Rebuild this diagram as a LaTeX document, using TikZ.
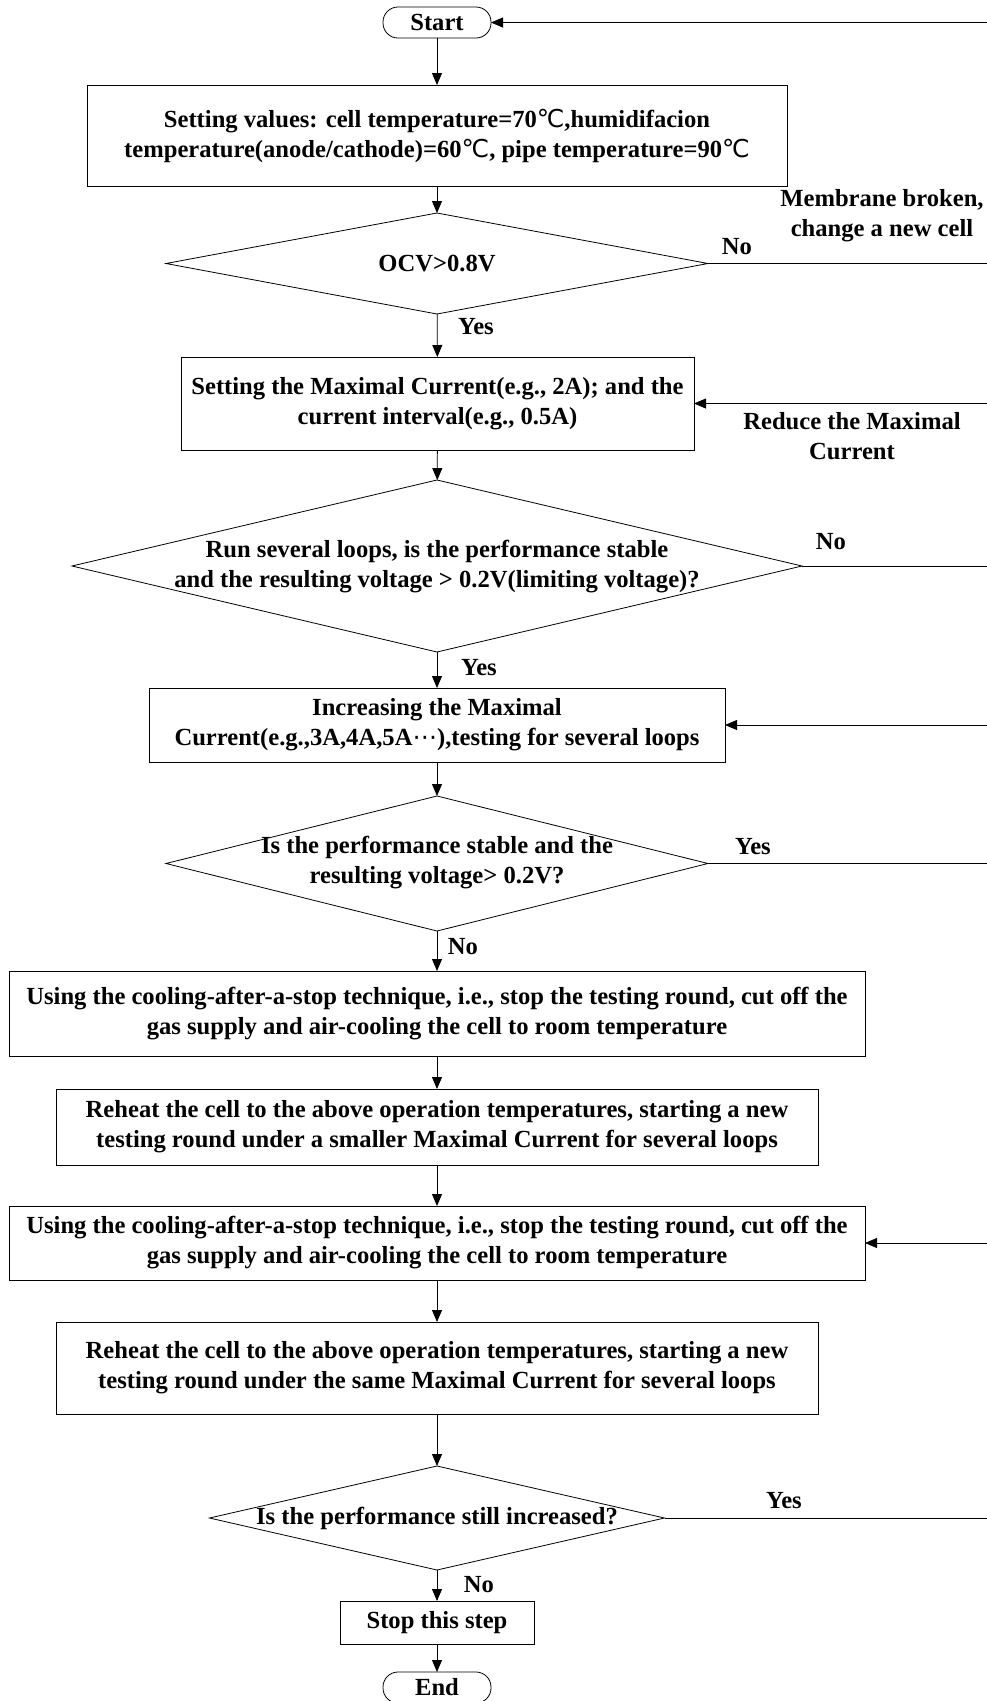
\documentclass[tikz,border=0pt]{standalone}
\usepackage{fontspec}
\setmainfont{Liberation Serif}
\newfontfamily\symf{DejaVu Sans}
\usetikzlibrary{arrows.meta,shapes.geometric}
\newcommand{\degc}{{\symf\mdseries ℃}}
\newcommand{\mydots}{{\symf\mdseries ⋯}}
\begin{document}
\begin{tikzpicture}[x=1pt,y=-1pt,
  every node/.style={font=\bfseries\fontsize{24.6}{30}\selectfont},
  box/.style={draw, rectangle, inner sep=0pt, outer sep=0pt, line width=0.8pt, align=center},
  dia/.style={draw, diamond, inner sep=0pt, outer sep=0pt, line width=0.8pt},
  term/.style={draw, rectangle, rounded corners=15pt, inner sep=0pt, outer sep=0pt, minimum width=108pt, minimum height=31pt, line width=0.8pt},
  txt/.style={inner sep=0pt, outer sep=0pt, align=center},
  arr/.style={-{Triangle[length=12pt,width=10pt]}, line width=0.8pt},
  ln/.style={line width=0.8pt}]
\path[use as bounding box] (0,0) rectangle (987,1701);
\clip (0,0) rectangle (987,1701);

% main column
\node[term] (start) at (437,22.5) {Start};
\node[box, minimum width=700pt, minimum height=101pt] (b1) at (437,135.5)
  {Setting values: cell temperature=70\degc,humidifacion\\temperature(anode/cathode)=60\degc, pipe temperature=90\degc};
\node[dia, minimum width=542pt, minimum height=101pt] (d1) at (437,263.5) {};
\node[txt] (d1t) at (437,263.5) {OCV>0.8V};
\node[box, minimum width=513pt, minimum height=93pt] (b2) at (437.5,403.5)
  {Setting the Maximal Current(e.g., 2A); and the\\current interval(e.g., 0.5A)};
\node[dia, minimum width=730pt, minimum height=172pt] (d2) at (437,566) {};
\node[txt] (d2t) at (437,567) {Run several loops, is the performance stable\\and the resulting voltage > 0.2V(limiting voltage)?};
\node[box, minimum width=576pt, minimum height=74pt] (b3) at (437,725)
  {Increasing the Maximal\\Current(e.g.,3A,4A,5A\mydots),testing for several loops};
\node[dia, minimum width=542pt, minimum height=135pt] (d3) at (437,863.5) {};
\node[txt] (d3t) at (437,863) {Is the performance stable and the\\resulting voltage> 0.2V?};
\node[box, minimum width=856pt, minimum height=85pt] (b4) at (437,1013.5)
  {Using the cooling-after-a-stop technique, i.e., stop the testing round, cut off the\\gas supply and air-cooling the cell to room temperature};
\node[box, minimum width=762pt, minimum height=76pt] (b5) at (437,1127)
  {Reheat the cell to the above operation temperatures, starting a new\\testing round under a smaller Maximal Current for several loops};
\node[box, minimum width=856pt, minimum height=74pt] (b6) at (437,1243)
  {Using the cooling-after-a-stop technique, i.e., stop the testing round, cut off the\\gas supply and air-cooling the cell to room temperature};
\node[box, minimum width=762pt, minimum height=92pt] (b7) at (437,1368)
  {Reheat the cell to the above operation temperatures, starting a new\\testing round under the same Maximal Current for several loops};
\node[dia, minimum width=455pt, minimum height=104pt] (d4) at (437,1518) {};
\node[txt] (d4t) at (437,1518) {Is the performance still increased?};
\node[box, minimum width=194pt, minimum height=43pt] (b8) at (437,1622.5) {Stop this step};
\node[term] (end) at (437,1687.5) {End};

% right edge coordinates
\coordinate (rS)  at (987,22.5);
\coordinate (rD1) at (987,263.5);
\coordinate (rB2) at (987,403.5);
\coordinate (rD2) at (987,566);
\coordinate (rB3) at (987,725);
\coordinate (rD3) at (987,863.5);
\coordinate (rB6) at (987,1243);
\coordinate (rD4) at (987,1518);

% vertical arrows
\draw[arr] (start) -- (b1);
\draw[arr] (b1) -- (d1);
\draw[arr] (d1) -- (b2);
\draw[arr] (b2) -- (d2);
\draw[arr] (d2) -- (b3);
\draw[arr] (b3) -- (d3);
\draw[arr] (d3) -- (b4);
\draw[arr] (b4) -- (b5);
\draw[arr] (b5) -- (b6);
\draw[arr] (b6) -- (b7);
\draw[arr] (b7) -- (d4);
\draw[arr] (d4) -- (b8);
\draw[arr] (b8) -- (end);

% side connectors
\draw[arr] (rS) -- (start.east);
\draw[ln] (d1.east) -- (rD1);
\draw[arr] (rB2) -- (b2.east);
\draw[ln] (d2.east) -- (rD2);
\draw[arr] (rB3) -- (b3.east);
\draw[ln] (d3.east) -- (rD3);
\draw[arr] (rB6) -- (b6.east);
\draw[ln] (d4.east) -- (rD4);

% labels
\node[txt] (l1) at (737,247) {No};
\node[txt] (l2) at (882,216) {Membrane broken,\\change a new cell};
\node[txt] (l3) at (476,327) {Yes};
\node[txt] (l4) at (852,436) {Reduce the Maximal\\Current};
\node[txt] (l5) at (831,542) {No};
\node[txt] (l6) at (479,668) {Yes};
\node[txt] (l7) at (753,847) {Yes};
\node[txt] (l8) at (463,947) {No};
\node[txt] (l9) at (784,1501) {Yes};
\node[txt] (l10) at (479,1585) {No};
\end{tikzpicture}
\end{document}
